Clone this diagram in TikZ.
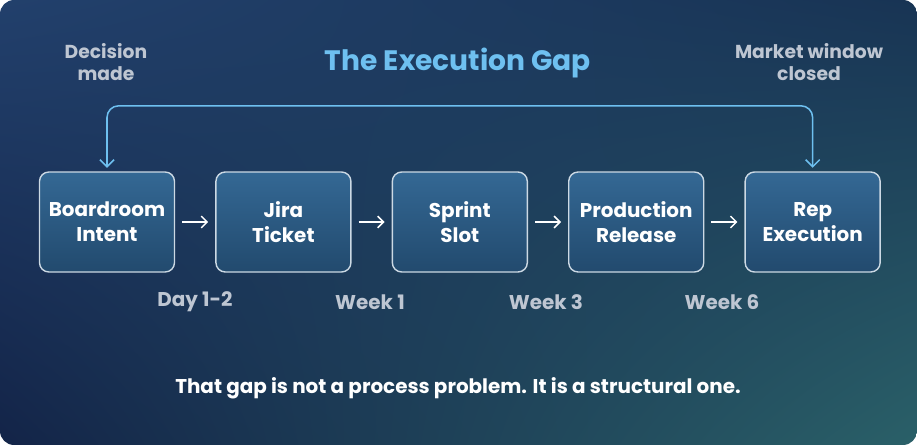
\documentclass[tikz,border=0pt]{standalone}
\usepackage{fontspec}
\setmainfont{Poppins}
\usetikzlibrary{positioning,arrows.meta,shadings}
\definecolor{bgTL}{RGB}{34, 64, 108}
\definecolor{bgBL}{RGB}{19, 36, 72}
\definecolor{bgTR}{RGB}{24, 52, 84}
\definecolor{bgBR}{RGB}{42, 96, 104}
\definecolor{stepTop}{RGB}{52, 104, 148}
\definecolor{stepBot}{RGB}{34, 74, 110}
\definecolor{gapBlue}{RGB}{110, 192, 240}
\definecolor{softGray}{RGB}{190, 198, 210}

\begin{document}
\begin{tikzpicture}[x=0.03cm, y=-0.03cm, node distance=40*0.3mm]
    % Define styles
    \tikzset{
        stage/.style={rectangle, draw=white!75!stepTop, line width=1.2pt, top color=stepTop, bottom color=stepBot, rounded corners=8pt, minimum width=135*0.3mm, minimum height=100*0.3mm, text=white, align=center, font=\fontsize{17}{21}\selectfont\bfseries},
        timing/.style={text=softGray, font=\fontsize{17}{20}\selectfont\bfseries},
        flow/.style={white, line width=1.3pt, -{Straight Barb[length=5pt]}},
        gap/.style={gapBlue, line width=1.3pt, rounded corners=10pt, {Straight Barb[length=6pt]}-{Straight Barb[length=6pt]}}
    }
    % Background
    \useasboundingbox (0,0) rectangle (917,445);
    \shade[rounded corners=12pt, upper left=bgTL, lower left=bgBL, upper right=bgTR, lower right=bgBR] (0,0) rectangle (917,445);

    % Title and end labels
    \node [text=gapBlue, font=\fontsize{24}{28}\selectfont\bfseries] (title) at (458,63) {The Execution Gap};
    \node [timing, align=center, font=\fontsize{16}{19}\selectfont\bfseries] (decision) at (106,62) {Decision\\made};
    \node [timing, align=center, font=\fontsize{16}{19}\selectfont\bfseries] (closed) at (809,62) {Market window\\closed};

    % Stages
    \node [stage] (intent) at (107,222) {Boardroom\\Intent};
    \node [stage, right=of intent] (ticket) {Jira\\Ticket};
    \node [stage, right=of ticket] (sprint) {Sprint\\Slot};
    \node [stage, right=of sprint] (release) {Production\\Release};
    \node [stage, right=of release] (rep) {Rep\\Execution};

    % Timings
    \node [timing] (day) at (195,302) {Day 1-2};
    \node [timing] (week1) at (370,302) {Week 1};
    \node [timing] (week3) at (546,302) {Week 3};
    \node [timing] (week6) at (722,302) {Week 6};

    % Arrows
    \draw [flow] ([xshift=6pt]intent.east) -- ([xshift=-6pt]ticket.west);
    \draw [flow] ([xshift=6pt]ticket.east) -- ([xshift=-6pt]sprint.west);
    \draw [flow] ([xshift=6pt]sprint.east) -- ([xshift=-6pt]release.west);
    \draw [flow] ([xshift=6pt]release.east) -- ([xshift=-6pt]rep.west);
    \draw [gap] ([yshift=3pt]intent.north) -- ++(0,-62) -| ([yshift=3pt]rep.north);

    % Closing line
    \node [text=white, font=\fontsize{17}{20}\selectfont\bfseries] (closing) at (458,388) {That gap is not a process problem. It is a structural one.};
\end{tikzpicture}
\end{document}
